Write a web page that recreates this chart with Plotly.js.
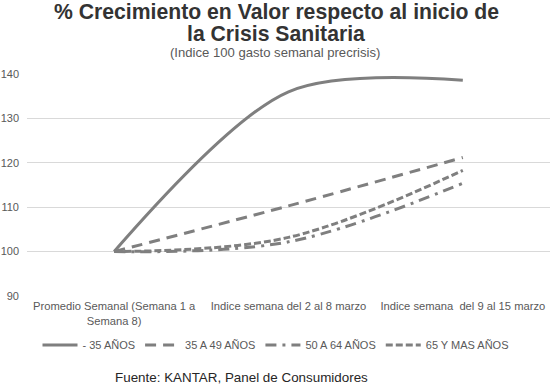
<!DOCTYPE html>
<html><head><meta charset="utf-8">
<script src="https://cdn.plot.ly/plotly-3.0.1.min.js"></script>
<style>body{margin:0}#c{width:550px;height:384px}</style>
</head><body><div id="c"></div>
<script>
const categories = ["Promedio Semanal (Semana 1 a<br>Semana 8)", "Indice semana del 2 al 8 marzo", "Indice semana  del 9 al 15 marzo"];
const seriesNames = ["- 35 AÑOS", "35 A 49 AÑOS", "50 A 64 AÑOS", "65 Y MAS AÑOS"];
const menos35 = [100, 136, 138.6];
const de35a49 = [100, 110.3, 121.2];
const de50a64 = [100, 102.2, 115.4];
const mas65 = [100, 103.2, 118.3];
const yTicks = [90, 100, 110, 120, 130, 140];
const titleLines = ["% Crecimiento en Valor respecto al inicio de", "la Crisis Sanitaria"];
const subtitle = "(Indice 100 gasto semanal precrisis)";
const source = "Fuente: KANTAR, Panel de Consumidores";

const W = 550, H = 384, M = {l: 27, r: 0, t: 74, b: 88};
const plotH = H - M.t - M.b, plotW = W - M.l - M.r;
const py = pix => (H - M.b - pix) / plotH;
const px = pix => (pix - M.l) / plotW;

const dashes = ["solid", "11px,7px", "11px,6px,3px,6px", "7px,3px"];
const smooth = [0.88, 1, 1, 1];
const vals = [menos35, de35a49, de50a64, mas65];
const traces = vals.map((v, i) => ({
  x: categories, y: v, type: "scatter", mode: "lines", name: seriesNames[i],
  line: {color: "#7f7f7f", width: 3, dash: dashes[i], shape: "spline", smoothing: smooth[i]}
}));

const layout = {
  width: W, height: H,
  margin: M,
  paper_bgcolor: "#fff", plot_bgcolor: "#fff",
  font: {family: "Liberation Sans, Arial, sans-serif", color: "#595959", size: 11},
  showlegend: true,
  legend: {orientation: "h", x: px(276), xanchor: "center", y: py(345), yanchor: "middle",
           itemwidth: 35, font: {size: 11, color: "#595959"}},
  xaxis: {type: "category", range: [-0.5, 2.5], showgrid: false, showline: false, zeroline: false,
          ticks: "", tickfont: {size: 11.2, color: "#595959"}, ticklabelstandoff: 2},
  yaxis: {range: [90, 140], tickvals: yTicks, showgrid: true, gridcolor: "#d9d9d9", gridwidth: 1,
          zeroline: false, showline: false, tickfont: {size: 11, color: "#595959"}, ticks: "",
          ticklabelstandoff: 7},
  annotations: [
    {text: "<b>" + titleLines[0] + "</b>", x: px(276), y: py(11.5), font: {size: 21.2, color: "#333333"}},
    {text: "<b>" + titleLines[1] + "</b>", x: px(276), y: py(33.5), font: {size: 21.2, color: "#333333"}},
    {text: subtitle, x: px(275), y: py(52.5), font: {size: 13.1, color: "#595959"}},
    {text: source, x: px(241), y: py(377), font: {size: 13.4, color: "#262626"}}
  ].map(a => Object.assign(a, {xref: "paper", yref: "paper", xanchor: "center", yanchor: "middle", showarrow: false}))
};
Plotly.newPlot("c", traces, layout, {displayModeBar: false});
</script></body></html>
